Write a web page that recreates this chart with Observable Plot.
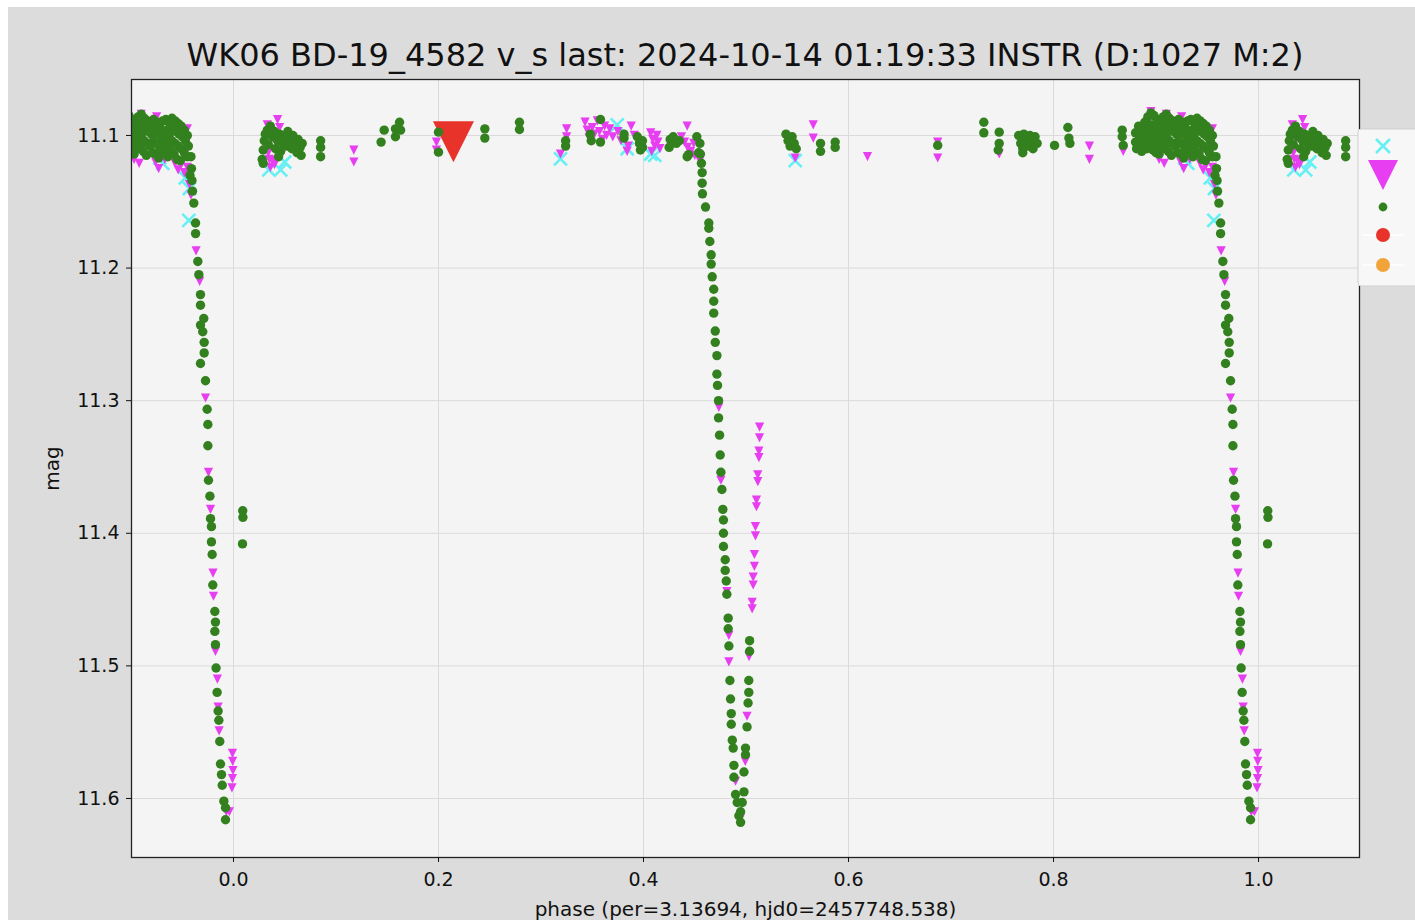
<!DOCTYPE html>
<html>
<head>
<meta charset="utf-8">
<script src="https://cdn.jsdelivr.net/npm/d3@7"></script>
<script src="https://cdn.jsdelivr.net/npm/@observablehq/plot@0.6"></script>
<style>
  html, body { margin: 0; padding: 0; background: #ffffff; width: 1415px; height: 920px; overflow: hidden; }
  #fig { position: absolute; left: 8px; top: 7px; width: 1407px; height: 913px; background: #dcdcdc; }
  #title { position: absolute; left: 131px; width: 1228px; top: 36px; text-align: center;
           font-family: "DejaVu Sans", sans-serif; font-size: 32px; color: #111; white-space: nowrap; }
  #chart { position: absolute; left: 0; top: 70px; }
  #legend { position: absolute; left: 1357px; top: 128px; }
</style>
</head>
<body>
<div id="fig"></div>
<div id="title">WK06 BD-19_4582 v_s last: 2024-10-14 01:19:33 INSTR (D:1027 M:2)</div>
<div id="chart"></div>
<div id="legend"></div>
<script>
// ---- data: [phase, mag] (phase in 0..1; the folded copies below 0 and above 1 are repeated) ----
const greenPts = [
  [0.0090, 11.383], [0.0092, 11.388], [0.0088, 11.408],
  [0.028, 11.118], [0.029, 11.111], [0.030, 11.104], [0.031, 11.099], [0.033, 11.096], [0.034, 11.107],
  [0.036, 11.093], [0.038, 11.101], [0.040, 11.097], [0.041, 11.110], [0.043, 11.104], [0.045, 11.099],
  [0.046, 11.112], [0.048, 11.106], [0.050, 11.101], [0.052, 11.108], [0.053, 11.097], [0.055, 11.104],
  [0.057, 11.110], [0.058, 11.100], [0.060, 11.106], [0.062, 11.113], [0.063, 11.103], [0.065, 11.109],
  [0.066, 11.115], [0.067, 11.106], [0.029, 11.121], [0.044, 11.116],
  [0.085, 11.104], [0.085, 11.109], [0.085, 11.116],
  [0.144, 11.105], [0.147, 11.096], [0.158, 11.095], [0.158, 11.101], [0.162, 11.090], [0.163, 11.096],
  [0.200, 11.0975], [0.200, 11.1126],
  [0.2452, 11.095], [0.2452, 11.102],
  [0.279, 11.090], [0.279, 11.0955],
  [0.324, 11.104], [0.324, 11.108],
  [0.348, 11.099], [0.349, 11.104], [0.358, 11.088], [0.358, 11.105],
  [0.381, 11.099], [0.381, 11.102],
  [0.394, 11.101], [0.396, 11.106], [0.397, 11.111], [0.399, 11.104], [0.399, 11.109],
  [0.425, 11.109], [0.426, 11.103], [0.429, 11.101], [0.432, 11.106], [0.435, 11.104],
  [0.4426, 11.116], [0.444, 11.1145],
  [0.452, 11.101], [0.4537, 11.113], [0.455, 11.106], [0.4555, 11.114], [0.4565, 11.121], [0.4572, 11.128],
  [0.4572, 11.136], [0.4575, 11.144], [0.4605, 11.154], [0.4637, 11.166], [0.4637, 11.170], [0.4647, 11.180],
  [0.466, 11.190], [0.466, 11.197], [0.467, 11.2066], [0.4685, 11.216], [0.4685, 11.225], [0.4685, 11.234],
  [0.470, 11.2475], [0.470, 11.256], [0.4716, 11.266], [0.4716, 11.280], [0.4722, 11.2885], [0.4732, 11.300],
  [0.4732, 11.313], [0.4742, 11.326], [0.4748, 11.341], [0.4755, 11.354], [0.4765, 11.367], [0.4774, 11.382],
  [0.478, 11.390], [0.478, 11.400], [0.478, 11.410], [0.4797, 11.420], [0.4797, 11.428], [0.4807, 11.436],
  [0.4813, 11.446], [0.4826, 11.464], [0.4826, 11.472], [0.4833, 11.485], [0.4843, 11.511], [0.4849, 11.525],
  [0.4856, 11.536], [0.4856, 11.544], [0.4866, 11.556], [0.4875, 11.562], [0.4882, 11.575], [0.4882, 11.584],
  [0.4898, 11.597], [0.4914, 11.603], [0.4930, 11.613], [0.4947, 11.618],
  [0.5035, 11.481], [0.5035, 11.489], [0.5027, 11.511], [0.5027, 11.520], [0.5020, 11.528], [0.5010, 11.546],
  [0.4995, 11.562], [0.4995, 11.567], [0.4980, 11.580], [0.4980, 11.595], [0.4963, 11.603], [0.4947, 11.610],
  [0.539, 11.099], [0.541, 11.104], [0.543, 11.108], [0.545, 11.101], [0.547, 11.106], [0.549, 11.110],
  [0.5727, 11.106], [0.5727, 11.112], [0.587, 11.105], [0.587, 11.109],
  [0.687, 11.1075],
  [0.732, 11.090], [0.732, 11.098],
  [0.747, 11.0975], [0.747, 11.106], [0.746, 11.111],
  [0.766, 11.100], [0.768, 11.106], [0.770, 11.110], [0.771, 11.099], [0.773, 11.104], [0.775, 11.108],
  [0.777, 11.100], [0.779, 11.105], [0.780, 11.110], [0.782, 11.101], [0.784, 11.106], [0.770, 11.113],
  [0.801, 11.1075],
  [0.814, 11.094], [0.815, 11.102], [0.816, 11.106],
  [0.867, 11.096], [0.867, 11.101], [0.868, 11.1075],
  [0.880, 11.098], [0.880, 11.105], [0.881, 11.110],
  [0.883, 11.093], [0.884, 11.101], [0.883, 11.108],
  [0.886, 11.096], [0.887, 11.104], [0.886, 11.112],
  [0.889, 11.090], [0.890, 11.099], [0.889, 11.107],
  [0.892, 11.086], [0.893, 11.095], [0.892, 11.103], [0.891, 11.110],
  [0.895, 11.083], [0.896, 11.092], [0.895, 11.100], [0.894, 11.108],
  [0.898, 11.085], [0.899, 11.094], [0.898, 11.102], [0.897, 11.111],
  [0.901, 11.088], [0.902, 11.097], [0.901, 11.105], [0.900, 11.113],
  [0.904, 11.090], [0.905, 11.099], [0.904, 11.107], [0.903, 11.114],
  [0.907, 11.086], [0.908, 11.095], [0.907, 11.103], [0.906, 11.110],
  [0.910, 11.084], [0.911, 11.092], [0.910, 11.100], [0.909, 11.108],
  [0.913, 11.087], [0.914, 11.095], [0.913, 11.104], [0.912, 11.112],
  [0.916, 11.089], [0.917, 11.097], [0.916, 11.106], [0.915, 11.115],
  [0.919, 11.091], [0.920, 11.099], [0.919, 11.108],
  [0.922, 11.088], [0.923, 11.096], [0.922, 11.104], [0.921, 11.113],
  [0.925, 11.090], [0.926, 11.098], [0.925, 11.106], [0.924, 11.114],
  [0.928, 11.092], [0.929, 11.100], [0.928, 11.109], [0.927, 11.117],
  [0.931, 11.089], [0.932, 11.097], [0.931, 11.105], [0.930, 11.113],
  [0.934, 11.088], [0.935, 11.096], [0.934, 11.103], [0.933, 11.111],
  [0.937, 11.090], [0.938, 11.098], [0.937, 11.106], [0.936, 11.116],
  [0.940, 11.087], [0.941, 11.095], [0.940, 11.104], [0.939, 11.112],
  [0.943, 11.089], [0.944, 11.097], [0.943, 11.106], [0.942, 11.114],
  [0.946, 11.091], [0.947, 11.099], [0.946, 11.108], [0.945, 11.118],
  [0.949, 11.093], [0.950, 11.101], [0.949, 11.110], [0.948, 11.119],
  [0.952, 11.096], [0.953, 11.104], [0.952, 11.113],
  [0.955, 11.100], [0.956, 11.108], [0.955, 11.116],
  [0.9585, 11.116], [0.9590, 11.125], [0.9595, 11.134], [0.9600, 11.142], [0.9575, 11.130],
  [0.9613, 11.151], [0.9630, 11.166], [0.9630, 11.174], [0.9652, 11.195], [0.9662, 11.205], [0.9678, 11.220],
  [0.9678, 11.228], [0.9710, 11.238], [0.9678, 11.243], [0.9700, 11.248], [0.9714, 11.256], [0.9714, 11.264],
  [0.9678, 11.272], [0.9727, 11.285], [0.9743, 11.3065], [0.9750, 11.318], [0.9750, 11.334], [0.9756, 11.360],
  [0.9770, 11.372], [0.9776, 11.389], [0.9785, 11.395], [0.9785, 11.4065], [0.9792, 11.416], [0.9798, 11.439],
  [0.9818, 11.459], [0.9824, 11.467], [0.9818, 11.474], [0.9824, 11.484], [0.9830, 11.5016], [0.9840, 11.520],
  [0.9850, 11.534], [0.9857, 11.541], [0.9866, 11.557], [0.9873, 11.574], [0.9883, 11.582], [0.9890, 11.590],
  [0.9906, 11.602], [0.9922, 11.607], [0.9922, 11.616]
];
const magentaPts = [
  [0.9990, 11.566], [0.9992, 11.572], [0.9995, 11.579], [0.9990, 11.585], [0.9985, 11.592], [0.9960, 11.610],
  [0.031, 11.108], [0.034, 11.113], [0.035, 11.118], [0.036, 11.124], [0.038, 11.119], [0.040, 11.122],
  [0.033, 11.092], [0.043, 11.088], [0.045, 11.094], [0.037, 11.103],
  [0.1174, 11.111], [0.1174, 11.120],
  [0.198, 11.105], [0.198, 11.111],
  [0.325, 11.095], [0.325, 11.101], [0.319, 11.114],
  [0.343, 11.090], [0.345, 11.096], [0.347, 11.102], [0.350, 11.094], [0.352, 11.099], [0.355, 11.089],
  [0.357, 11.097], [0.360, 11.103], [0.362, 11.093], [0.364, 11.100], [0.367, 11.095], [0.370, 11.101],
  [0.375, 11.097], [0.378, 11.104], [0.385, 11.108], [0.388, 11.093], [0.391, 11.100], [0.384, 11.112],
  [0.407, 11.098], [0.409, 11.103], [0.411, 11.108], [0.413, 11.100], [0.414, 11.105], [0.408, 11.112], [0.416, 11.110],
  [0.4426, 11.093], [0.437, 11.101], [0.440, 11.105], [0.443, 11.109], [0.446, 11.112], [0.449, 11.106],
  [0.455, 11.119], [0.450, 11.115],
  [0.4735, 11.305], [0.4755, 11.360], [0.4813, 11.444], [0.4833, 11.477], [0.4833, 11.497], [0.4898, 11.587], [0.4945, 11.615],
  [0.5030, 11.493], [0.5010, 11.538], [0.4993, 11.572],
  [0.5132, 11.320], [0.5132, 11.328], [0.5126, 11.338], [0.5126, 11.343], [0.5115, 11.356], [0.5115, 11.361],
  [0.5102, 11.375], [0.5102, 11.380], [0.5092, 11.395], [0.5092, 11.402], [0.5082, 11.416], [0.5082, 11.425],
  [0.5070, 11.433], [0.5070, 11.439], [0.5060, 11.452], [0.5060, 11.457],
  [0.548, 11.117],
  [0.5656, 11.092], [0.5656, 11.102],
  [0.6185, 11.116],
  [0.687, 11.105], [0.687, 11.117],
  [0.747, 11.114],
  [0.835, 11.108], [0.835, 11.118],
  [0.868, 11.112],
  [0.895, 11.082], [0.910, 11.084], [0.925, 11.086], [0.955, 11.095],
  [0.898, 11.106], [0.900, 11.112], [0.903, 11.118], [0.906, 11.110], [0.908, 11.121], [0.918, 11.108],
  [0.921, 11.114], [0.924, 11.120], [0.927, 11.125], [0.930, 11.112], [0.933, 11.118], [0.940, 11.115],
  [0.943, 11.121], [0.946, 11.126], [0.949, 11.122], [0.952, 11.128], [0.955, 11.124],
  [0.957, 11.137], [0.9585, 11.145], [0.9635, 11.187], [0.9670, 11.210], [0.9727, 11.298], [0.9756, 11.354],
  [0.9776, 11.382], [0.9800, 11.430], [0.9805, 11.4475], [0.9824, 11.489], [0.9843, 11.510], [0.9850, 11.531],
  [0.9860, 11.549], [0.9930, 11.610]
];
const cyanPts = [
  [0.0345, 11.126], [0.046, 11.126], [0.050, 11.120], [0.319, 11.1176], [0.3743, 11.092], [0.384, 11.110],
  [0.407, 11.114], [0.411, 11.115], [0.548, 11.119], [0.931, 11.121], [0.928, 11.117], [0.953, 11.132],
  [0.9564, 11.164], [0.957, 11.140]
];
const redPts = [[0.2146, 11.1047]];

const xTicks = [0.0, 0.2, 0.4, 0.6, 0.8, 1.0];
const yTicks = [11.1, 11.2, 11.3, 11.4, 11.5, 11.6];

const colors = { cyan: "#66f0f4", magenta: "#e63ef0", green: "#33801f", red: "#e8332a", orange: "#f2a33a" };

// phase folding: repeat points near the ends on the other side
function fold(pts) {
  const out = [];
  for (const [p, m] of pts) {
    out.push({phase: p, mag: m});
    if (p > 0.89) out.push({phase: p - 1, mag: m});
    if (p < 0.11) out.push({phase: p + 1, mag: m});
  }
  return out;
}

const triDown = {
  draw(ctx, size) {
    const h = Math.sqrt(size / Math.PI);
    ctx.moveTo(-h, -h); ctx.lineTo(h, -h); ctx.lineTo(0, h); ctx.closePath();
  }
};
const cross = {
  draw(ctx, size) {
    const h = Math.sqrt(size / Math.PI);
    ctx.moveTo(-h, -h); ctx.lineTo(h, h); ctx.moveTo(h, -h); ctx.lineTo(-h, h);
  }
};

const W = 1415, H = 850;
const chart = Plot.plot({
  width: W, height: H,
  marginLeft: 131, marginRight: 56, marginTop: 9, marginBottom: 63,
  style: { background: "transparent", fontFamily: "DejaVu Sans, sans-serif", fontSize: "19px", color: "#111" },
  x: { domain: [-0.0995, 1.0985] },
  y: { domain: [11.0578, 11.6445], reverse: true },
  marks: [
    Plot.frame({ fill: "#f4f4f4" }),
    Plot.gridX(xTicks, { stroke: "#dadada", strokeOpacity: 1, strokeWidth: 1 }),
    Plot.gridY(yTicks, { stroke: "#dadada", strokeOpacity: 1, strokeWidth: 1 }),
    Plot.dot(fold(cyanPts), { x: "phase", y: "mag", symbol: cross, r: 6.5, stroke: colors.cyan, strokeWidth: 2.6, fill: "none", clip: true }),
    Plot.dot(fold(magentaPts), { x: "phase", y: "mag", symbol: triDown, r: 4.6, fill: colors.magenta, stroke: "none", clip: true }),
    Plot.dot(fold(redPts), { x: "phase", y: "mag", symbol: triDown, r: 20.5, fill: colors.red, stroke: "none", clip: true }),
    Plot.dot(fold(greenPts), { x: "phase", y: "mag", r: 4.7, fill: colors.green, stroke: "none", clip: true }),
    Plot.frame({ stroke: "#222", strokeWidth: 1.3 }),
    Plot.axisX(xTicks, { anchor: "bottom", tickSize: 5, tickPadding: 10, tickFormat: d3.format(".1f"), label: null, fontSize: 19 }),
    Plot.axisX([], { anchor: "bottom", tickSize: 0, label: "phase (per=3.13694, hjd0=2457748.538)", labelArrow: "none",
      labelAnchor: "center", labelOffset: 58, fontSize: 20 }),
    Plot.axisY(yTicks, { anchor: "left", tickSize: 5, tickPadding: 7, tickFormat: d3.format(".1f"), label: null, fontSize: 19 }),
    Plot.axisY([], { anchor: "left", tickSize: 0, label: "mag", labelArrow: "none", labelAnchor: "center", labelOffset: 87, fontSize: 20 })
  ]
});
document.getElementById("chart").appendChild(chart);

// legend (markers only, no labels), clipped at the right edge of the figure
const leg = d3.select("#legend").append("svg").attr("width", 60).attr("height", 160);
leg.append("rect").attr("x", 1).attr("y", 1).attr("width", 80).attr("height", 157).attr("rx", 3)
  .attr("fill", "#f7f7f7").attr("stroke", "#cfcfcf");
const lx = 26;
leg.append("path").attr("d", `M${lx-7},${18-7}L${lx+7},${18+7}M${lx+7},${18-7}L${lx-7},${18+7}`)
  .attr("stroke", colors.cyan).attr("stroke-width", 2.6).attr("fill", "none");
leg.append("path").attr("d", `M${lx-15},32L${lx+15},32L${lx},62Z`).attr("fill", colors.magenta);
leg.append("circle").attr("cx", lx).attr("cy", 79).attr("r", 4.4).attr("fill", colors.green);
leg.append("line").attr("x1", lx-21).attr("x2", lx+21).attr("y1", 107).attr("y2", 107).attr("stroke", "#ffffff").attr("stroke-width", 1.5);
leg.append("circle").attr("cx", lx).attr("cy", 107).attr("r", 7).attr("fill", colors.red);
leg.append("line").attr("x1", lx-21).attr("x2", lx+21).attr("y1", 137).attr("y2", 137).attr("stroke", "#ffffff").attr("stroke-width", 1.5);
leg.append("circle").attr("cx", lx).attr("cy", 137).attr("r", 7).attr("fill", colors.orange);
</script>
</body>
</html>
